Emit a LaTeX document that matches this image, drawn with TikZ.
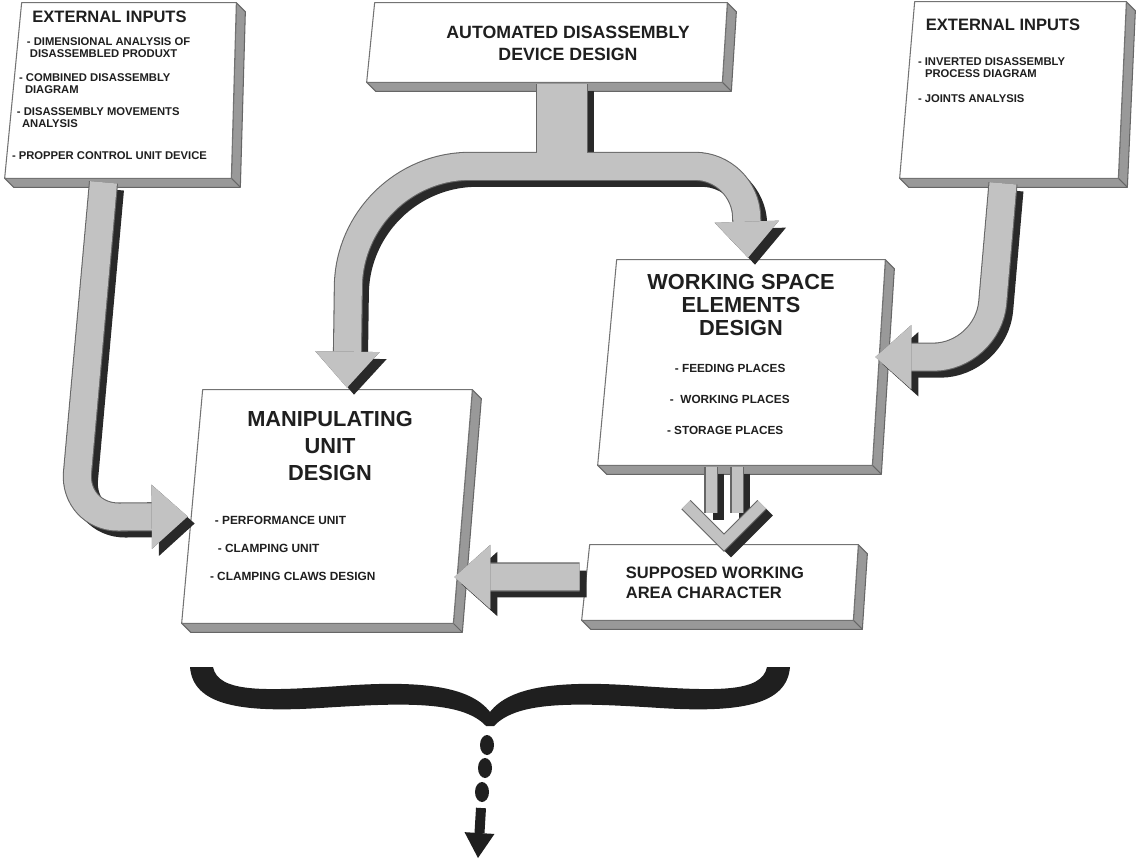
\documentclass[tikz,border=0pt]{standalone}
\usepackage{fontspec}
\setmainfont{Liberation Sans}
\usetikzlibrary{arrows.meta}
\pgfdeclarelayer{slabs}
\pgfsetlayers{slabs,main}
\definecolor{bandgray}{gray}{0.76}
\definecolor{shadowgray}{gray}{0.16}
\definecolor{sidegray}{gray}{0.6}
\definecolor{inkgray}{gray}{0.12}
\tikzset{
    slab-box/.style 2 args = {rectangle, inner sep=0pt, minimum width=#1*0.02cm, minimum height=#2*0.02cm},
    slab-face/.style = {fill=white, draw=black!55, line width=0.6pt, line join=round},
    slab-side/.style = {fill=sidegray, draw=black!60, line width=0.6pt, line join=round},
    big-title/.style = {font=\bfseries\fontsize{12.4}{14}\selectfont, align=center, text=inkgray},
    mid-title/.style = {font=\bfseries\fontsize{9.4}{11.4}\selectfont, align=left, text=inkgray},
    item-list/.style = {font=\bfseries\fontsize{6.4}{6.9}\selectfont, align=left, text=inkgray, inner sep=0pt},
    band-shadow/.style = {draw=shadowgray, line width=#1, line join=round, transform canvas={shift={(7,7)}}},
    band-rim/.style = {draw=black!60, line width=#1+1.2pt, line join=round},
    band-fill/.style = {draw=bandgray, line width=#1, line join=round},
    head/.style = {-{Triangle[length=0.72cm, width=1.28cm, line width=\headlw]}},
}
% 3d slab behind a box node: node, left skew, right skew
\newcommand\slab[3]{%
  \begin{pgfonlayer}{slabs}
    \filldraw[slab-side] (#1.north east) -- ++(9,9) -- ([shift={(9-#3,9)}]#1.south east)
      -- ([shift={(9,9)}]#1.south west) -- (#1.south west) -- ([shift={(-#3,0)}]#1.south east) -- cycle;
    \draw[slab-side] ([shift={(-#3,0)}]#1.south east) -- ++(9,9);
    \filldraw[slab-face] ([shift={(#2,0)}]#1.north west) -- (#1.north east)
      -- ([shift={(-#3,0)}]#1.south east) -- (#1.south west) -- cycle;
  \end{pgfonlayer}}

\begin{document}
\begin{tikzpicture}[x=0.02cm, y=-0.02cm]
\useasboundingbox (0,0) rectangle (1136,861);

% boxes
\node[slab-box={231}{175}] (ext-left) at (120.5,90.5) {};
\node[slab-box={360}{79}] (device) at (547,42.5) {};
\node[slab-box={226}{176}] (ext-right) at (1013,90) {};
\node[slab-box={287}{205}] (workspace) at (741.5,362.5) {};
\node[slab-box={290}{233}] (manipulating) at (327,506.5) {};
\node[slab-box={276}{75}] (area) at (720,582.5) {};
\slab{ext-left}{17}{5}
\slab{device}{8}{5}
\slab{ext-right}{15}{8}
\slab{workspace}{19}{13}
\slab{manipulating}{21}{19}
\slab{area}{8}{5}

% texts
\node[mid-title] (ext-left-title) at ([shift={(-11,14)}]ext-left.north) {EXTERNAL INPUTS};
\node[item-list, anchor=north west] (ext-left-items) at ([shift={(7,35)}]ext-left.north west) {%
  \hspace*{8.5pt}- DIMENSIONAL ANALYSIS OF\\
  \hspace*{10.2pt}DISASSEMBLED PRODUXT\\[6.3pt]
  \hspace*{4pt}- COMBINED DISASSEMBLY\\
  \hspace*{7.4pt}DIAGRAM\\[5.7pt]
  \hspace*{2.8pt}- DISASSEMBLY MOVEMENTS\\
  \hspace*{5.7pt}ANALYSIS\\[11.4pt]
  - PROPPER CONTROL UNIT DEVICE};
\node[mid-title, align=center, font=\bfseries\fontsize{10.1}{12.5}\selectfont] (device-title) at ([shift={(21,0.5)}]device.center) {AUTOMATED DISASSEMBLY\\DEVICE DESIGN};
\node[mid-title] (ext-right-title) at ([shift={(-10,23)}]ext-right.north) {EXTERNAL INPUTS};
\node[item-list, anchor=north west] (ext-right-items) at ([shift={(18,56)}]ext-right.north west) {%
  - INVERTED DISASSEMBLY\\
  \hspace*{4pt}PROCESS DIAGRAM\\[6.8pt]
  - JOINTS ANALYSIS};
\node[big-title, font=\bfseries\fontsize{12.4}{13.1}\selectfont] (workspace-title) at ([shift={(-0.5,45)}]workspace.north) {WORKING SPACE\\ELEMENTS\\DESIGN};
\node[item-list, font=\bfseries\fontsize{6.7}{7.2}\selectfont, anchor=north west] (workspace-items) at ([shift={(69,104)}]workspace.north west) {%
  \hspace*{4.5pt}- FEEDING PLACES\\[10.4pt]
  \hspace*{1.7pt}- \ WORKING PLACES\\[10.4pt]
  - STORAGE PLACES};
\node[big-title, font=\bfseries\fontsize{12.4}{15.4}\selectfont] (manipulating-title) at ([shift={(3,56)}]manipulating.north) {MANIPULATING\\UNIT\\DESIGN};
\node[item-list, font=\bfseries\fontsize{6.75}{7.2}\selectfont, anchor=north west] (manipulating-items) at ([shift={(28,126)}]manipulating.north west) {%
  \hspace*{2.8pt}- PERFORMANCE UNIT\\[8.7pt]
  \hspace*{4.5pt}- CLAMPING UNIT\\[8.7pt]
  - CLAMPING CLAWS DESIGN};
\node[mid-title, anchor=west] (area-title) at ([shift={(38,0.5)}]area.west) {SUPPOSED WORKING\\AREA CHARACTER};

% block arrows: shadow, rim, fill
\foreach \pass/\headlw in {band-shadow/1.2pt, band-rim/1.2pt, band-fill/0pt} {
  \draw[\pass=0.54cm, head, rounded corners=0.9cm] ([shift={(-17,4)}]ext-left.south)
    -- ([shift={(-47,339)}]ext-left.south) -- ([shift={(6,10)}]manipulating.west);
  \draw[\pass=1.0cm] ([shift={(15,2)}]device.south) -- ([shift={(15,78)}]device.south);
  \draw[\pass=0.54cm, head, rounded corners=2.4cm] ([shift={(28,84)}]device.south)
    -- ([shift={(-197,84)}]device.south) -- ([shift={(20,-2)}]manipulating.north);
  \draw[\pass=0.54cm, head, rounded corners=1cm] ([shift={(3,84)}]device.south)
    -- ([shift={(198,84)}]device.south) -- ([shift={(6.5,-2)}]workspace.north);
  \draw[\pass=0.54cm, head, rounded corners=1.1cm] ([shift={(-10,5)}]ext-right.south)
    -- ([shift={(-25,179)}]ext-right.south) -- ([shift={(-10,-5.5)}]workspace.east);
  \draw[\pass=0.54cm, head] ([shift={(-2,-5.5)}]area.west) -- ([shift={(-18,70.5)}]manipulating.east);
  \draw[\pass=0.22cm] ([shift={(-9,-78)}]area.north) -- ([shift={(-9,-32)}]area.north);
  \draw[\pass=0.22cm] ([shift={(17,-78)}]area.north) -- ([shift={(17,-32)}]area.north);
  \draw[\pass=0.22cm, line join=miter] ([shift={(-34,-40)}]area.north) -- ([shift={(4,-2)}]area.north)
    -- ([shift={(42,-40)}]area.north);
}

% brace and continuation
\fill[black!88] (190,667) .. controls (193,705) and (240,713) .. (320,708)
  .. controls (400,703) and (462,700) .. (486,726) -- (494,726)
  .. controls (518,700) and (580,703) .. (660,708) .. controls (740,713) and (787,705) .. (790,667)
  -- (767,667) .. controls (762,693) and (715,691) .. (640,686)
  .. controls (560,680) and (510,686) .. (490,712)
  .. controls (470,686) and (420,680) .. (340,686) .. controls (265,691) and (218,693) .. (213,667) -- cycle;
\foreach \dx/\dy in {487/745, 485/768, 482/792}
  \fill[black!88] (\dx,\dy) ellipse [x radius=7, y radius=10];
\coordinate (trail) at (481,808);
\coordinate (next) at (478,858);
\draw[black!88, line width=0.2cm, -{Triangle[length=0.5cm, width=0.6cm, line width=0pt]}] (trail) -- (next);
\end{tikzpicture}
\end{document}
